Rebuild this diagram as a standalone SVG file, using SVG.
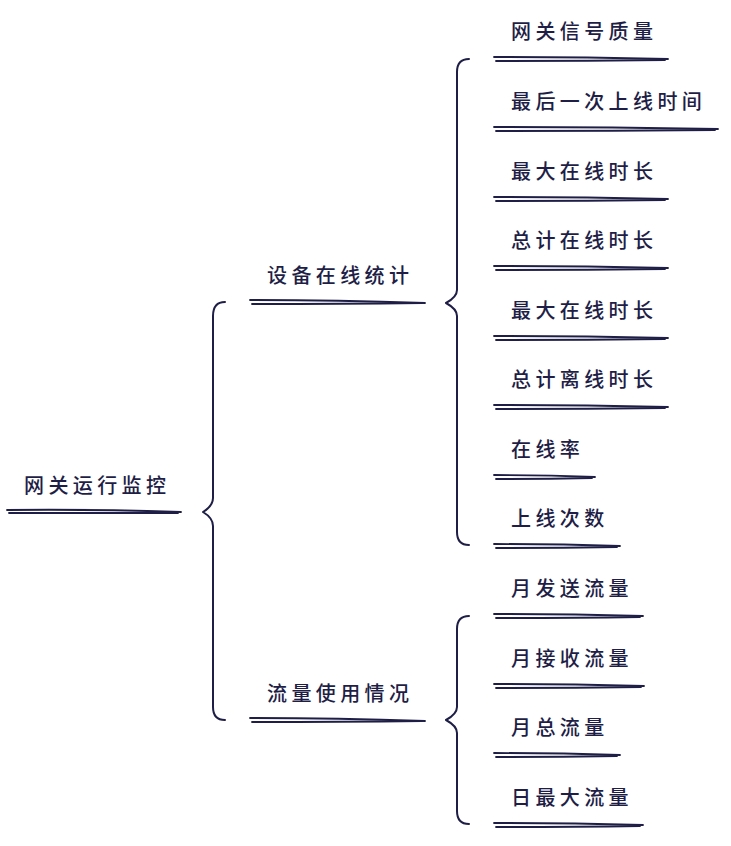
<svg xmlns="http://www.w3.org/2000/svg" width="731" height="846" viewBox="0 0 731 846">
<style>
.t{font-family:"Noto Sans CJK SC","Noto Sans",sans-serif;font-size:20px;font-weight:500;letter-spacing:4.4px;fill:#1e1e46}
.u{fill:none;stroke:#1e1e46;stroke-width:1.8;stroke-linecap:round}
.b{fill:none;stroke:#1e1e46;stroke-width:2;stroke-linecap:round;stroke-linejoin:round}
</style>
<rect width="731" height="846" fill="#ffffff"/>
<g id="connectors">
<path class="b" d="M225,302 Q213,302 213,316 L213,498 Q213,506 203,512 Q213,518 213,526 L213,707 Q213,720 225,720"/>
<path class="b" d="M469,59 Q457,59 457,72 L457,290 Q457,297 446,303 Q457,309 457,316 L457,532 Q457,545 469,545"/>
<path class="b" d="M469,616 Q457,616 457,629 L457,707 Q457,714 446,720 Q457,726 457,733 L457,811 Q457,824 469,824"/>
</g>
<g id="root">
<text class="t" x="24" y="493">网关运行监控</text>
<path class="u" d="M7,510 Q90,509 181,512"/><path class="u" d="M9,513 Q95,513 178,513"/>
</g>
<g id="n-device">
<text class="t" x="267" y="283">设备在线统计</text>
<path class="u" d="M250,300 Q335,300 425,303"/><path class="u" d="M252,304 Q340,304 422,303"/>
</g>
<g id="n-flow">
<text class="t" x="267" y="701">流量使用情况</text>
<path class="u" d="M250,718 Q335,718 425,721"/><path class="u" d="M252,722 Q340,722 422,721"/>
</g>
<g id="leaf1"><text class="t" x="511" y="39">网关信号质量</text><path class="u" d="M494,57 Q580,57 668,59"/><path class="u" d="M496,61 Q582,61 665,60"/></g>
<g id="leaf2"><text class="t" x="511" y="109">最后一次上线时间</text><path class="u" d="M494,127 Q605,127 718,129"/><path class="u" d="M496,131 Q607,131 715,130"/></g>
<g id="leaf3"><text class="t" x="511" y="179">最大在线时长</text><path class="u" d="M494,197 Q580,197 668,199"/><path class="u" d="M496,201 Q582,201 665,200"/></g>
<g id="leaf4"><text class="t" x="511" y="248">总计在线时长</text><path class="u" d="M494,266 Q580,266 668,268"/><path class="u" d="M496,270 Q582,270 665,269"/></g>
<g id="leaf5"><text class="t" x="511" y="318">最大在线时长</text><path class="u" d="M494,336 Q580,336 668,338"/><path class="u" d="M496,340 Q582,340 665,339"/></g>
<g id="leaf6"><text class="t" x="511" y="387">总计离线时长</text><path class="u" d="M494,405 Q580,405 668,407"/><path class="u" d="M496,409 Q582,409 665,408"/></g>
<g id="leaf7"><text class="t" x="511" y="457">在线率</text><path class="u" d="M494,475 Q545,475 595,477"/><path class="u" d="M496,479 Q546,479 592,478"/></g>
<g id="leaf8"><text class="t" x="511" y="526">上线次数</text><path class="u" d="M494,544 Q557,544 620,546"/><path class="u" d="M496,548 Q558,548 617,547"/></g>
<g id="leaf9"><text class="t" x="511" y="596">月发送流量</text><path class="u" d="M494,614 Q568,614 643,616"/><path class="u" d="M496,618 Q570,618 640,617"/></g>
<g id="leaf10"><text class="t" x="511" y="666">月接收流量</text><path class="u" d="M494,684 Q568,684 644,686"/><path class="u" d="M496,688 Q570,688 641,687"/></g>
<g id="leaf11"><text class="t" x="511" y="735">月总流量</text><path class="u" d="M494,753 Q557,753 620,755"/><path class="u" d="M496,757 Q558,757 617,756"/></g>
<g id="leaf12"><text class="t" x="511" y="805">日最大流量</text><path class="u" d="M494,823 Q568,823 643,825"/><path class="u" d="M496,827 Q570,827 640,826"/></g>
</svg>
